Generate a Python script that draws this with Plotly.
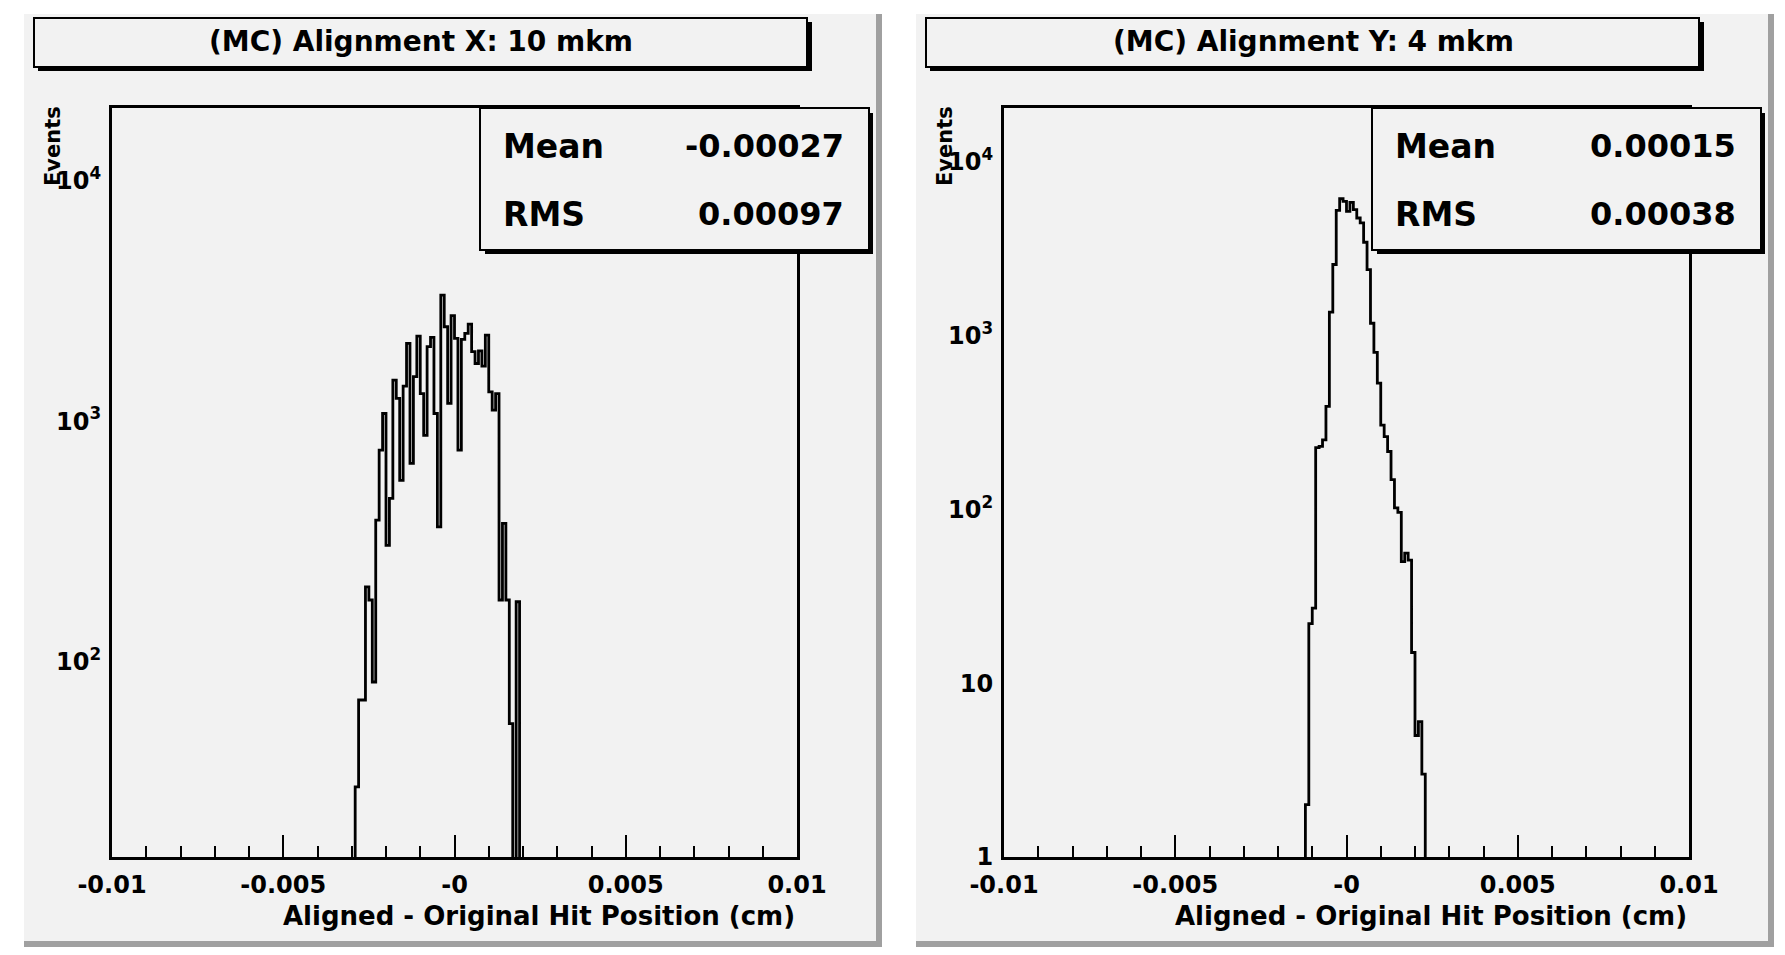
import numpy as np
import plotly.graph_objects as go

# page is 1785x955; the html body adds an 8px margin, so the figure is drawn 8px in
PAGE_W, PAGE_H, BODY = 1785, 955, 8
W, H = PAGE_W - 2 * BODY, PAGE_H - 2 * BODY

# ---------------- data ----------------
# 200 bins between -0.01 and 0.01 cm
x_lo, x_hi, n_bins = -0.01, 0.01, 200

# Panel 1: Alignment X -- counts starting at bin index 71
alignx_first_bin = 71
alignx_counts = [30, 69, 69, 204, 180, 82, 387, 757, 1076, 304, 477, 1482, 1245, 567,
                 1400, 2108, 667, 1531, 2260, 1303, 872, 2044, 2234, 1076, 363, 3350,
                 2472, 1185, 2748, 2213, 757, 2190, 2318, 2535, 1946, 1738, 1963, 1694,
                 2281, 1324, 1111, 1303, 180, 375, 180, 55, 0, 177]

# Panel 2: Alignment Y -- counts starting at bin index 88
aligny_first_bin = 88
aligny_counts = [2, 22, 27, 226, 230, 251, 391, 1362, 2558, 5236, 6110, 5900, 5165,
                 5820, 5286, 4735, 4435, 3435, 2393, 1175, 798, 532, 305, 262, 215,
                 148, 102, 96, 50, 56, 51, 15, 5, 6, 3]

titles = ["(MC) Alignment X: 10 mkm", "(MC) Alignment Y: 4 mkm"]
stat_names = ["Mean", "RMS"]
stat_values = [["-0.00027", "0.00097"], ["0.00015", "0.00038"]]

x_tickvals = [-0.01, -0.005, 0.0, 0.005, 0.01]
x_ticktext = ["-0.01", "-0.005", "-0", "0.005", "0.01"]
y_tickvals = [[100, 1000, 10000], [1, 10, 100, 1000, 10000]]
y_ticktext = [["10<sup>2</sup>", "10<sup>3</sup>", "10<sup>4</sup>"],
              ["1", "10", "10<sup>2</sup>", "10<sup>3</sup>", "10<sup>4</sup>"]]
y_ranges = [[1.185, 4.304], [0.0, 4.308]]
x_title = "Aligned - Original Hit Position (cm)"
y_title = "Events"

# ---------------- helpers (page pixel -> paper) ----------------
def X(px):
    return (px - BODY) / W

def Y(py):
    return 1 - (py - BODY) / H

FONT = "DejaVu Sans"
PAD = "#f2f2f2"

edges = np.linspace(x_lo, x_hi, n_bins + 1)

def full_counts(first, counts):
    arr = np.zeros(n_bins)
    arr[first:first + len(counts)] = counts
    return arr

hists = [full_counts(alignx_first_bin, alignx_counts),
         full_counts(aligny_first_bin, aligny_counts)]

fig = go.Figure()
shapes = []
annotations = []

def rect(x0, y0, x1, y1, **kw):
    shapes.append(dict(type="rect", xref="paper", yref="paper",
                       x0=X(x0), x1=X(x1), y0=Y(y1), y1=Y(y0), **kw))

def text(x, y, s, size, xanchor="center", yanchor="middle", angle=0):
    annotations.append(dict(x=X(x), y=Y(y), xref="paper", yref="paper", text=s,
                            showarrow=False, xanchor=xanchor, yanchor=yanchor,
                            textangle=angle,
                            font=dict(family=FONT, size=size, color="black", weight="bold")))

for i in range(2):
    dx = 892 * i
    # pad background and bevel
    rect(24 + dx, 14, 882 + dx, 947, fillcolor=PAD, line=dict(width=0), layer="below")
    rect(876 + dx, 14, 882 + dx, 947, fillcolor="#a0a0a0", line=dict(width=0), layer="below")
    rect(24 + dx, 941, 882 + dx, 947, fillcolor="#a0a0a0", line=dict(width=0), layer="below")
    # title box with shadow
    rect(38 + dx, 22, 812 + dx, 71, fillcolor="black", line=dict(width=0), layer="above")
    rect(34 + dx, 18, 807 + dx, 67, fillcolor=PAD, line=dict(color="black", width=2), layer="above")
    text(421 + dx, 41, titles[i], 28)
    # stat box with shadow
    rect(485 + dx, 113, 873 + dx, 254, fillcolor="black", line=dict(width=0), layer="above")
    rect(480 + dx, 108, 869 + dx, 250, fillcolor=PAD, line=dict(color="black", width=2), layer="above")
    for j, nm in enumerate(stat_names):
        yy = 146 + 68 * j
        text(501 + dx, yy, nm, 33, xanchor="left")
        text(846 + dx, yy, stat_values[i][j], 32, xanchor="right")
    # axis titles
    text(797 + dx, 916, x_title, 26, xanchor="right")
    text(53 + dx, 146, y_title, 21, angle=-90)

    # histogram step line
    h = hists[i]
    yv = np.where(h > 0, h, 1e-3)
    ys = list(yv) + [yv[-1]]
    xs = list(edges)
    sfx = "" if i == 0 else str(i + 1)
    fig.add_trace(go.Scatter(x=xs, y=ys, mode="lines", line=dict(color="black", width=2.8, shape="hv"),
                             xaxis="x" + sfx, yaxis="y" + sfx, showlegend=False, hoverinfo="skip"))

    x0p, x1p = 112 + dx, 797 + dx
    xa = dict(domain=[X(x0p), X(x1p)], range=[x_lo, x_hi], anchor="y" + sfx,
              automargin=False,
              showline=True, linewidth=3, linecolor="black", mirror=True,
              showgrid=False, zeroline=False,
              ticks="inside", ticklen=22, tickwidth=2, tickcolor="black",
              tickmode="array", tickvals=x_tickvals, ticktext=x_ticktext,
              ticklabelstandoff=4,
              tickfont=dict(family=FONT, size=24, color="black", weight="bold"),
              minor=dict(ticks="inside", ticklen=11, tickwidth=2, tickcolor="black",
                         tickmode="linear", tick0=x_lo, dtick=0.001, showgrid=False))
    ya = dict(domain=[Y(857), Y(108)], type="log", range=y_ranges[i], anchor="x" + sfx,
              automargin=False,
              showline=True, linewidth=3, linecolor="black", mirror=True,
              showgrid=False, zeroline=False, ticks="",
              tickmode="array", tickvals=y_tickvals[i], ticktext=y_ticktext[i],
              ticklabelstandoff=3,
              tickfont=dict(family=FONT, size=24, color="black", weight="bold"))
    fig.update_layout(**{"xaxis" + sfx: xa, "yaxis" + sfx: ya})

fig.update_layout(width=W, height=H, margin=dict(l=0, r=0, t=0, b=0, pad=0),
                  autosize=False,
                  paper_bgcolor="white", plot_bgcolor="rgba(0,0,0,0)",
                  shapes=shapes, annotations=annotations, showlegend=False)

fig.write_html("out.html")
